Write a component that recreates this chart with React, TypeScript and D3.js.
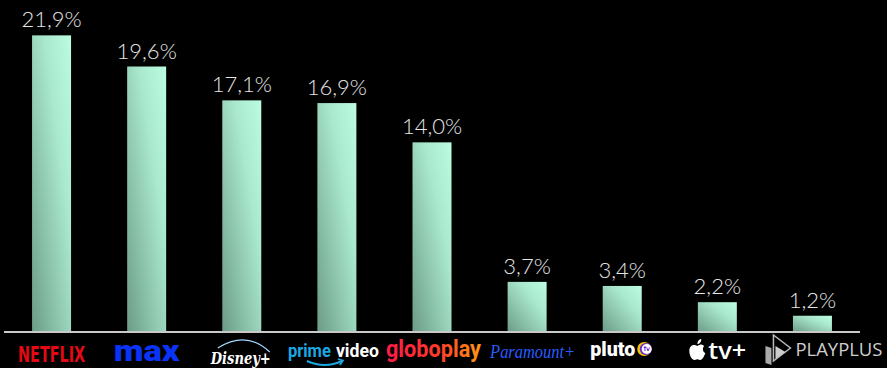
import React from "react";
import * as d3 from "d3";

const categories = ["Netflix", "Max", "Disney+", "Prime Video", "Globoplay", "Paramount+", "Pluto TV", "Apple TV+", "PlayPlus"];
const shares = [21.9, 19.6, 17.1, 16.9, 14.0, 3.7, 3.4, 2.2, 1.2];

const W = 887;
const H = 368;

function Logo({ name, cx }: { name: string; cx: number }) {
  const y = 362;
  switch (name) {
    case "Netflix":
      return (
        <text x={cx} y={y} textAnchor="middle" fill="#e50914" fontFamily="'DejaVu Sans Condensed', 'DejaVu Sans'" fontWeight={700} fontSize={22} textLength={67} lengthAdjust="spacingAndGlyphs">NETFLIX</text>
      );
    case "Max":
      return (
        <text x={cx} y={y - 1} textAnchor="middle" fill="#0b33f5" fontFamily="Roboto" fontWeight={900} fontSize={30} textLength={66} lengthAdjust="spacingAndGlyphs">max</text>
      );
    case "Disney+":
      return (
        <g>
          <path d={`M ${cx - 24} ${y - 14} Q ${cx + 5} ${y - 32} ${cx + 28} ${y - 10}`} fill="none" stroke="#9fd8ff" strokeWidth={1.2} />
          <text x={cx - 31} y={y + 2} fill="#ffffff" fontFamily="'DejaVu Serif'" fontStyle="italic" fontWeight={700} fontSize={17} textLength={60} lengthAdjust="spacingAndGlyphs">Disney+</text>
        </g>
      );
    case "Prime Video":
      return (
        <g>
          <text x={cx - 49} y={y - 5} fill="#1ba8e0" fontFamily="Roboto" fontWeight={700} fontSize={18} textLength={43} lengthAdjust="spacingAndGlyphs">prime</text>
          <text x={cx - 1} y={y - 5} fill="#ffffff" fontFamily="Roboto" fontWeight={700} fontSize={18} textLength={43} lengthAdjust="spacingAndGlyphs">video</text>
          <path d={`M ${cx - 30} ${y - 1} Q ${cx - 12} ${y + 7} ${cx + 5} ${y - 1}`} fill="none" stroke="#1ba8e0" strokeWidth={2.2} />
          <path d={`M ${cx + 1} ${y - 3} L ${cx + 6} ${y - 1.5} L ${cx + 3} ${y + 3}`} fill="none" stroke="#1ba8e0" strokeWidth={1.8} />
        </g>
      );
    case "Globoplay":
      return (
        <text x={cx + 1.5} y={y - 5} textAnchor="middle" fill="url(#globoGrad)" fontFamily="Roboto" fontWeight={700} fontSize={23} textLength={95} lengthAdjust="spacingAndGlyphs">globoplay</text>
      );
    case "Paramount+":
      return (
        <text x={cx - 37} y={y - 4} fill="#2a5cff" fontFamily="'Liberation Serif'" fontStyle="italic" fontSize={18} textLength={85} lengthAdjust="spacingAndGlyphs">Paramount+</text>
      );
    case "Pluto TV": {
      const px = cx + 24.5;
      const py = y - 13;
      return (
        <g>
          <text x={cx - 32} y={y - 6} fill="#ffffff" fontFamily="Roboto" fontWeight={900} fontSize={20} textLength={45} lengthAdjust="spacingAndGlyphs">pluto</text>
          <circle cx={cx + 22} cy={py} r={7} fill="#f2c400" />
          <circle cx={cx + 23.5} cy={py} r={6} fill="#6b2bd9" />
          <circle cx={px} cy={py} r={5} fill="#ffffff" />
          <path d={`M ${px - 3} ${py - 1.5} L ${px - 0.5} ${py - 1.5} M ${px - 1.8} ${py - 3} L ${px - 1.8} ${py + 2} M ${px} ${py - 1.5} L ${px + 1.3} ${py + 2} L ${px + 2.8} ${py - 1.5}`} fill="none" stroke="#6b2bd9" strokeWidth={1} />
        </g>
      );
    }
    case "Apple TV+": {
      const ax = cx - 20;
      const ay = y - 12;
      return (
        <g>
          <path d={`M ${ax} ${ay - 4} C ${ax - 3} ${ay - 6} ${ax - 8} ${ay - 5} ${ax - 8} ${ay + 1} C ${ax - 8} ${ay + 6} ${ax - 5} ${ay + 10} ${ax - 3} ${ay + 10} C ${ax - 1} ${ay + 10} ${ax} ${ay + 9} ${ax} ${ay + 9} C ${ax} ${ay + 9} ${ax + 1} ${ay + 10} ${ax + 3} ${ay + 10} C ${ax + 5} ${ay + 10} ${ax + 7} ${ay + 6} ${ax + 8} ${ay + 3} C ${ax + 5} ${ay + 2} ${ax + 5} ${ay - 3} ${ax + 7} ${ay - 4} C ${ax + 5} ${ay - 6} ${ax + 3} ${ay - 6} ${ax} ${ay - 4} Z`} fill="#ffffff" />
          <path d={`M ${ax} ${ay - 6} C ${ax} ${ay - 9} ${ax + 2} ${ay - 11} ${ax + 4} ${ay - 11} C ${ax + 4} ${ay - 8} ${ax + 2} ${ay - 6} ${ax} ${ay - 6} Z`} fill="#ffffff" />
          <text x={cx - 9} y={y - 3} fill="#ffffff" fontFamily="'Open Sans'" fontWeight={600} fontSize={24} textLength={38} lengthAdjust="spacingAndGlyphs">tv+</text>
        </g>
      );
    }
    case "PlayPlus": {
      const ix = cx - 47;
      return (
        <g>
          <path d={`M ${ix + 8} ${y - 27} L ${ix + 25} ${y - 14} L ${ix + 8} ${y - 1} Z`} fill="none" stroke="#bbbbbb" strokeWidth={1.5} />
          <path d={`M ${ix} ${y - 16} L ${ix + 6} ${y - 14} L ${ix + 6} ${y + 3} L ${ix} ${y + 1} Z`} fill="#aaaaaa" />
          <path d={`M ${ix + 10} ${y - 16} L ${ix + 20} ${y - 10} L ${ix + 10} ${y - 3} Z`} fill="#cccccc" />
          <text x={cx - 17} y={y - 6} fill="#cfcfcf" fontFamily="'Open Sans'" fontWeight={400} fontSize={19} textLength={87} lengthAdjust="spacingAndGlyphs">PLAYPLUS</text>
        </g>
      );
    }
    default:
      return null;
  }
}

export default function App() {
  if (typeof document !== "undefined") {
    document.body.style.margin = "0";
    document.body.style.background = "#000";
  }
  const x = d3.scaleBand<string>().domain(categories).range([4, 860]).paddingInner(0.59).paddingOuter(0.295);
  const y = d3.scaleLinear().domain([0, 22]).range([332, 34]);
  const fmt = (v: number) => v.toFixed(1).replace(".", ",") + "%";

  return (
    <svg width={W} height={H} style={{ display: "block", background: "#000" }}>
      <defs>
        <linearGradient id="barGrad" x1="1" y1="0" x2="0" y2="1">
          <stop offset="0" stopColor="#bbfde0" />
          <stop offset="0.35" stopColor="#a9e8cd" />
          <stop offset="1" stopColor="#6c9c86" />
        </linearGradient>
        <linearGradient id="globoGrad" x1="0" y1="0" x2="1" y2="0">
          <stop offset="0" stopColor="#ff1a4a" />
          <stop offset="0.55" stopColor="#ff3a2a" />
          <stop offset="1" stopColor="#ff9a10" />
        </linearGradient>
      </defs>
      {categories.map((c, i) => {
        const bx = x(c) as number;
        const top = y(shares[i]);
        return (
          <g key={c}>
            <rect x={bx} y={top} width={x.bandwidth()} height={y(0) - top} fill="url(#barGrad)" />
            <text x={bx + x.bandwidth() / 2} y={top - 8} textAnchor="middle" fill="#e6e6e6" fontFamily="Lato" fontWeight={300} fontSize={22}>{fmt(shares[i])}</text>
          </g>
        );
      })}
      <line x1={4} x2={860} y1={332} y2={332} stroke="#c9c9c9" strokeWidth={2} />
      {categories.map((c) => (
        <Logo key={c} name={c} cx={(x(c) as number) + x.bandwidth() / 2} />
      ))}
    </svg>
  );
}
